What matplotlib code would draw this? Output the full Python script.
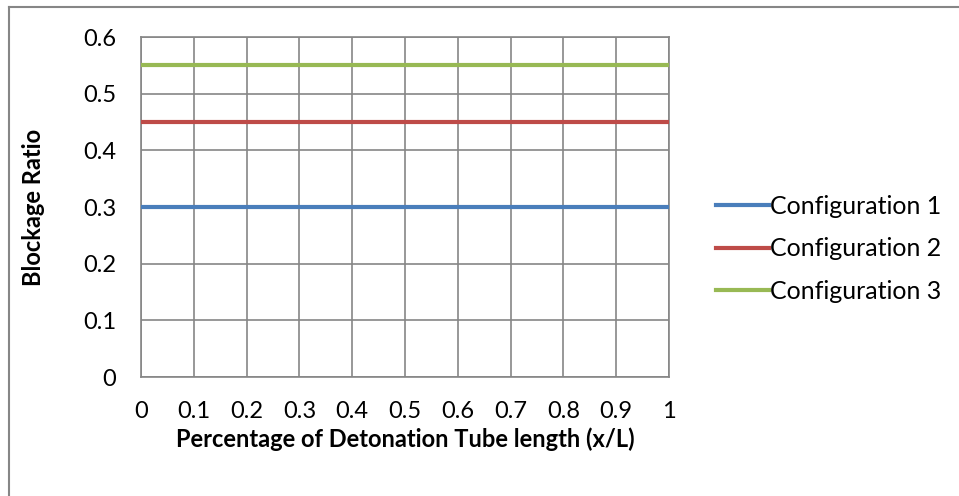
import matplotlib
matplotlib.use("Agg")
import matplotlib.pyplot as plt
from matplotlib.lines import Line2D

plt.rcParams['font.family'] = ['Lato', 'DejaVu Sans']

x_positions = [0.0, 0.1, 0.2, 0.3, 0.4, 0.5, 0.6, 0.7, 0.8, 0.9, 1.0]
x_tick_labels = ["0", "0.1", "0.2", "0.3", "0.4", "0.5", "0.6", "0.7", "0.8", "0.9", "1"]
y_ticks = [0, 0.1, 0.2, 0.3, 0.4, 0.5, 0.6]
y_tick_labels = ["0", "0.1", "0.2", "0.3", "0.4", "0.5", "0.6"]

series_names = ["Configuration 1", "Configuration 2", "Configuration 3"]
config1 = [0.30] * 11
config2 = [0.45] * 11
config3 = [0.55] * 11
colors = ["#4a7ebb", "#be4b48", "#98b954"]

FS = 17
W, H = 959, 496
fig = plt.figure(figsize=(W / 100, H / 100), dpi=100)

# chart frame (top and left edges visible)
fig.add_artist(Line2D([9 / W, 9 / W], [0, 1 - 7 / H], transform=fig.transFigure,
                      color="#868686", lw=1.5))
fig.add_artist(Line2D([9 / W, 1], [1 - 7 / H, 1 - 7 / H], transform=fig.transFigure,
                      color="#868686", lw=1.5))

left, right, top, bottom = 141, 669, 37, 377
ax = fig.add_axes([left / W, 1 - bottom / H, (right - left) / W, (bottom - top) / H])

for vals, name, c in zip([config1, config2, config3], series_names, colors):
    ax.plot(x_positions, vals, color=c, lw=3.0, label=name, solid_capstyle="butt", zorder=3)

ax.set_xlim(0, 1)
ax.set_ylim(0, 0.6)
ax.set_xticks(x_positions)
ax.set_xticklabels(x_tick_labels)
ax.set_yticks(y_ticks)
ax.set_yticklabels(y_tick_labels)
ax.grid(True, color="#868686", lw=1.2)
ax.set_axisbelow(True)
for s in ax.spines.values():
    s.set_color("#868686")
    s.set_linewidth(1.2)
ax.tick_params(length=0, labelsize=FS, colors="black")
ax.tick_params(axis="x", pad=17.5)
ax.tick_params(axis="y", pad=18)

ax.set_xlabel("Percentage of Detonation Tube length (x/L)", fontsize=FS, fontweight="bold")
ax.xaxis.set_label_coords(0.5, -(439 - bottom) / (bottom - top), transform=ax.transAxes)
ax.xaxis.label.set_va("center")
ax.set_ylabel("Blockage Ratio", fontsize=FS, fontweight="bold")
ax.yaxis.set_label_coords(-(left - 33) / (right - left), 0.5)
ax.yaxis.label.set_va("center")

handles = [Line2D([0], [0], color=c, lw=3.0) for c in colors]
fig.legend(handles, series_names, loc="center left",
           bbox_to_anchor=(716 / W, 1 - 249 / H), frameon=False,
           fontsize=18, handlelength=2.1, handletextpad=0.08, labelspacing=0.78,
           borderaxespad=0, borderpad=0)

fig.savefig("out.png", dpi=100, facecolor="white")
